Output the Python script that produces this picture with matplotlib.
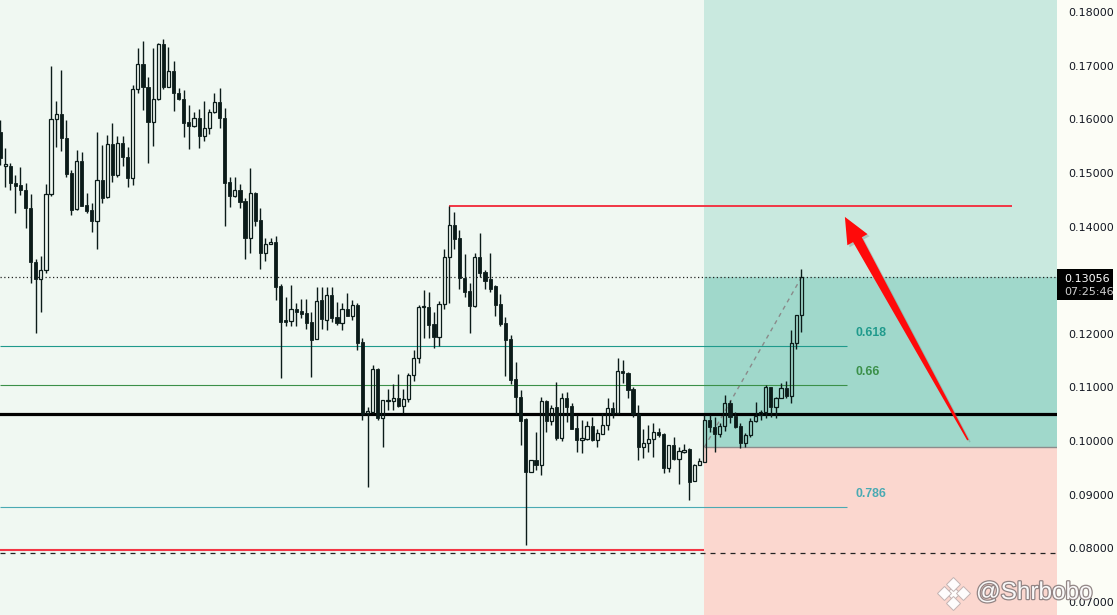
import matplotlib
matplotlib.use("Agg")
import matplotlib.pyplot as plt
import matplotlib.patheffects as pe
import matplotlib.transforms as mtransforms
import numpy as np
from matplotlib.patches import Polygon, Rectangle
from matplotlib.ticker import FormatStrFormatter

# ---- candles
opens = [
    0.1576, 0.1513, 0.1513, 0.1481, 0.1478, 0.1468, 0.1435, 0.1334, 0.1302, 0.1319,
    0.1461, 0.1601, 0.1610, 0.1565, 0.1500, 0.1433, 0.1522, 0.1440, 0.1431, 0.1410,
    0.1487, 0.1455, 0.1554, 0.1496, 0.1556, 0.1530, 0.1491, 0.1657, 0.1703, 0.1660,
    0.1595, 0.1638, 0.1740, 0.1660, 0.1690, 0.1649, 0.1638, 0.1595, 0.1587, 0.1602,
    0.1569, 0.1584, 0.1614, 0.1632, 0.1602, 0.1483, 0.1457, 0.1468, 0.1448, 0.1379,
    0.1463, 0.1412, 0.1351, 0.1368, 0.1371, 0.1289, 0.1226, 0.1224, 0.1246, 0.1243,
    0.1239, 0.1222, 0.1190, 0.1263, 0.1226, 0.1272, 0.1231, 0.1220, 0.1246, 0.1233,
    0.1254, 0.1185, 0.1052, 0.1054, 0.1134, 0.1043, 0.1075, 0.1075, 0.1080, 0.1066,
    0.1079, 0.1123, 0.1155, 0.1250, 0.1250, 0.1218, 0.1194, 0.1256, 0.1343, 0.1403,
    0.1379, 0.1304, 0.1280, 0.1252, 0.1343, 0.1315, 0.1302, 0.1289, 0.1256, 0.1220,
    0.1190, 0.1116, 0.1082, 0.1041, 0.0943, 0.0965, 0.0956, 0.1075, 0.1038, 0.1064,
    0.1006, 0.1080, 0.1066, 0.1025, 0.1002, 0.1004, 0.1028, 0.1002, 0.1013, 0.1030,
    0.1062, 0.1052, 0.1131, 0.1127, 0.1097, 0.1051, 0.0989, 0.0997, 0.1004, 0.1017,
    0.1013, 0.0950, 0.0993, 0.0967, 0.0980, 0.0985, 0.0926, 0.0956, 0.0961, 0.1039,
    0.1026, 0.1013, 0.1028, 0.1071, 0.1047, 0.1028, 0.0997, 0.1011, 0.1038, 0.1049,
    0.1054, 0.1101, 0.1064, 0.1080, 0.1099, 0.1084, 0.1183, 0.1235,
]
highs = [
    0.1599, 0.1547, 0.1519, 0.1496, 0.1511, 0.1481, 0.1461, 0.1340, 0.1345, 0.1479,
    0.1699, 0.1634, 0.1692, 0.1599, 0.1505, 0.1543, 0.1539, 0.1463, 0.1444, 0.1576,
    0.1552, 0.1571, 0.1593, 0.1569, 0.1569, 0.1548, 0.1664, 0.1733, 0.1746, 0.1679,
    0.1733, 0.1742, 0.1750, 0.1735, 0.1709, 0.1658, 0.1655, 0.1627, 0.1614, 0.1619,
    0.1634, 0.1619, 0.1649, 0.1658, 0.1621, 0.1492, 0.1492, 0.1479, 0.1453, 0.1509,
    0.1465, 0.1435, 0.1379, 0.1379, 0.1382, 0.1293, 0.1269, 0.1291, 0.1258, 0.1265,
    0.1265, 0.1241, 0.1287, 0.1287, 0.1287, 0.1287, 0.1259, 0.1258, 0.1276, 0.1263,
    0.1258, 0.1192, 0.1064, 0.1142, 0.1136, 0.1077, 0.1097, 0.1107, 0.1125, 0.1097,
    0.1127, 0.1170, 0.1254, 0.1282, 0.1278, 0.1241, 0.1261, 0.1358, 0.1438, 0.1427,
    0.1394, 0.1349, 0.1295, 0.1351, 0.1388, 0.1319, 0.1351, 0.1291, 0.1274, 0.1231,
    0.1198, 0.1148, 0.1095, 0.1043, 0.0965, 0.1017, 0.1082, 0.1077, 0.1067, 0.1110,
    0.1090, 0.1092, 0.1071, 0.1049, 0.1039, 0.1038, 0.1045, 0.1023, 0.1052, 0.1080,
    0.1073, 0.1155, 0.1151, 0.1129, 0.1101, 0.1067, 0.1023, 0.1030, 0.1034, 0.1025,
    0.1015, 0.0993, 0.1008, 0.0989, 0.0995, 0.0987, 0.0957, 0.0969, 0.1049, 0.1049,
    0.1045, 0.1034, 0.1086, 0.1077, 0.1054, 0.1034, 0.1015, 0.1043, 0.1073, 0.1058,
    0.1105, 0.1101, 0.1082, 0.1108, 0.1112, 0.1207, 0.1235, 0.1321,
]
lows = [
    0.1515, 0.1474, 0.1468, 0.1425, 0.1459, 0.1397, 0.1295, 0.1202, 0.1241, 0.1313,
    0.1457, 0.1548, 0.1541, 0.1492, 0.1422, 0.1431, 0.1438, 0.1425, 0.1390, 0.1358,
    0.1444, 0.1453, 0.1483, 0.1492, 0.1513, 0.1474, 0.1478, 0.1649, 0.1617, 0.1519,
    0.1550, 0.1636, 0.1657, 0.1660, 0.1615, 0.1636, 0.1567, 0.1545, 0.1586, 0.1547,
    0.1560, 0.1573, 0.1612, 0.1584, 0.1401, 0.1437, 0.1455, 0.1435, 0.1340, 0.1351,
    0.1401, 0.1321, 0.1336, 0.1368, 0.1263, 0.1118, 0.1215, 0.1215, 0.1215, 0.1230,
    0.1209, 0.1120, 0.1190, 0.1209, 0.1207, 0.1222, 0.1217, 0.1207, 0.1233, 0.1226,
    0.1170, 0.1039, 0.0915, 0.1052, 0.1039, 0.0989, 0.1058, 0.1058, 0.1064, 0.1052,
    0.1073, 0.1112, 0.1146, 0.1192, 0.1192, 0.1174, 0.1177, 0.1246, 0.1258, 0.1358,
    0.1284, 0.1269, 0.1202, 0.1250, 0.1306, 0.1284, 0.1278, 0.1233, 0.1215, 0.1121,
    0.1107, 0.1051, 0.0993, 0.0806, 0.0943, 0.0946, 0.0937, 0.1017, 0.1030, 0.1002,
    0.1000, 0.1036, 0.1023, 0.0980, 0.0978, 0.1002, 0.1000, 0.0989, 0.1013, 0.1021,
    0.1043, 0.1051, 0.1108, 0.1080, 0.1045, 0.0965, 0.0969, 0.0980, 0.0971, 0.1008,
    0.0941, 0.0943, 0.0965, 0.0920, 0.0978, 0.0890, 0.0926, 0.0956, 0.0961, 0.1017,
    0.0980, 0.1008, 0.1019, 0.1034, 0.1025, 0.0987, 0.0989, 0.1008, 0.1036, 0.1039,
    0.1043, 0.1045, 0.1043, 0.1080, 0.1080, 0.1071, 0.1172, 0.1204,
]
closes = [
    0.1528, 0.1517, 0.1481, 0.1476, 0.1468, 0.1435, 0.1334, 0.1302, 0.1319, 0.1461,
    0.1601, 0.1610, 0.1565, 0.1498, 0.1431, 0.1522, 0.1438, 0.1429, 0.1410, 0.1487,
    0.1453, 0.1554, 0.1496, 0.1556, 0.1530, 0.1491, 0.1657, 0.1703, 0.1660, 0.1595,
    0.1638, 0.1740, 0.1660, 0.1690, 0.1649, 0.1638, 0.1593, 0.1587, 0.1602, 0.1569,
    0.1584, 0.1614, 0.1632, 0.1602, 0.1481, 0.1457, 0.1468, 0.1446, 0.1379, 0.1463,
    0.1410, 0.1351, 0.1368, 0.1371, 0.1287, 0.1222, 0.1222, 0.1246, 0.1241, 0.1237,
    0.1220, 0.1189, 0.1261, 0.1228, 0.1272, 0.1230, 0.1220, 0.1246, 0.1233, 0.1254,
    0.1183, 0.1051, 0.1056, 0.1134, 0.1043, 0.1077, 0.1077, 0.1080, 0.1066, 0.1079,
    0.1123, 0.1155, 0.1250, 0.1252, 0.1217, 0.1194, 0.1256, 0.1343, 0.1403, 0.1377,
    0.1304, 0.1278, 0.1252, 0.1343, 0.1313, 0.1299, 0.1284, 0.1254, 0.1218, 0.1189,
    0.1114, 0.1082, 0.1038, 0.0943, 0.0965, 0.0956, 0.1075, 0.1038, 0.1062, 0.1006,
    0.1080, 0.1064, 0.1023, 0.1002, 0.1006, 0.1028, 0.1002, 0.1015, 0.1030, 0.1062,
    0.1052, 0.1131, 0.1127, 0.1095, 0.1051, 0.0989, 0.0997, 0.1004, 0.1017, 0.1011,
    0.0950, 0.0993, 0.0967, 0.0982, 0.0984, 0.0924, 0.0956, 0.0963, 0.1039, 0.1026,
    0.1013, 0.1028, 0.1071, 0.1045, 0.1026, 0.0997, 0.1011, 0.1038, 0.1047, 0.1054,
    0.1101, 0.1064, 0.1080, 0.1099, 0.1084, 0.1183, 0.1235, 0.13056,
]

# ---- drawing levels
fib_levels = [0.1177, 0.1105, 0.0877]
fib_labels = ["0.618", "0.66", "0.786"]
support = 0.10506
resistance_bar = 88            # swing high the red line starts from
low_line = 0.0797
stop_line = 0.0791
entry_bar = 138
entry_price = 0.0989
arrow_tail = (189.6, 0.1002)
arrow_tip = (165.5, 0.1418)
price_ticks = [0.07, 0.08, 0.09, 0.10, 0.11, 0.12, 0.14, 0.15, 0.16, 0.17, 0.18]
countdown = "07:25:46"
watermark = "@Shrbobo"

INK = "#0b1b19"
BG = "#f0f8f2"
X_RIGHT = 207.05
Y_LO, Y_HI = 0.06758, 0.18224

fig = plt.figure(figsize=(11.17, 6.15), dpi=100, facecolor="#fcfdf6")
ax = fig.add_axes([0, 0, 1057 / 1117, 1])
ax.set_facecolor(BG)
ax.set_xlim(0, X_RIGHT)
ax.set_ylim(Y_LO, Y_HI)
for s in ax.spines.values():
    s.set_visible(False)

last = closes[-1]

# ---- long position box
w = X_RIGHT - entry_bar
ax.add_patch(Rectangle((entry_bar, last), w, Y_HI - last, facecolor="#c9e9df", edgecolor="none", zorder=1))
ax.add_patch(Rectangle((entry_bar, entry_price), w, last - entry_price, facecolor="#a0d8cb", edgecolor="none", zorder=1))
ax.add_patch(Rectangle((entry_bar, Y_LO), w, entry_price - Y_LO, facecolor="#fbd7cf", edgecolor="none", zorder=1))
ax.hlines(entry_price, entry_bar, X_RIGHT, colors="#8c8c8c", lw=1.0, zorder=2)
ax.plot([entry_bar, len(closes) - 1], [entry_price, last], color="#8a8a8a", lw=1.0,
        ls=(0, (3, 3)), zorder=3)

# ---- horizontal levels
fib_colors = ["#1f9a8c", "#3b9049", "#4aaab3"]
fib_end = 165.9
for lvl, lab, col in zip(fib_levels, fib_labels, fib_colors):
    ax.hlines(lvl, 0, fib_end, colors=col, lw=0.8, zorder=3)
    ax.annotate(lab, xy=(fib_end + 1.6, lvl), xytext=(0, 9.4), textcoords="offset points",
                color=col, fontsize=8.8, fontweight="bold", va="center", ha="left",
                family="Liberation Sans", zorder=3)

ax.axhline(support, color="black", lw=2.3, zorder=3)
ax.hlines(highs[resistance_bar], resistance_bar, 198.2, colors="#f23645", lw=1.4, zorder=3)
ax.hlines(low_line, 0, entry_bar, colors="#f23645", lw=1.5, zorder=3)
ax.axhline(stop_line, color="#222222", lw=0.9, ls=(0, (4, 4)), zorder=3)
ax.axhline(last, color="#222222", lw=0.9, ls=(0, (1, 2)), zorder=3)

# ---- candles
o, h, l, c = (np.array(v) for v in (opens, highs, lows, closes))
x = np.arange(len(o))
up = c >= o
lo_b = np.minimum(o, c)
hi_b = np.maximum(o, c)
ax.vlines(x, hi_b, h, color=INK, lw=1.0, zorder=4)
ax.vlines(x, l, lo_b, color=INK, lw=1.0, zorder=4)
height = np.maximum(hi_b - lo_b, 0.00008)
ax.bar(x[up], height[up], bottom=lo_b[up], width=0.62, facecolor="none", edgecolor=INK,
       lw=0.9, zorder=4)
ax.bar(x[~up], height[~up], bottom=lo_b[~up], width=0.62, facecolor=INK, edgecolor=INK,
       lw=0.6, zorder=4)

# ---- red arrow (built in pixels so it tapers like the drawing tool)
td = ax.transData
t = td.transform(arrow_tail)
hp = td.transform(arrow_tip)
d = hp - t
u = d / np.hypot(*d)
n = np.array([-u[1], u[0]])
base = hp - u * 26
pts = [t + n * 0.8, base + n * 5, base + n * 11.5, hp, base - n * 11.5, base - n * 5, t - n * 0.8]
arrow = Polygon(td.inverted().transform(pts), closed=True, facecolor="#ff0a0a", edgecolor="none",
                zorder=6, path_effects=[pe.SimplePatchShadow(offset=(1.5, -1.5), shadow_rgbFace="#6f8a84",
                                                             alpha=0.35), pe.Normal()])
ax.add_patch(arrow)

# ---- price scale
ax.set_xticks([])
ax.yaxis.tick_right()
ax.set_yticks(price_ticks)
ax.yaxis.set_major_formatter(FormatStrFormatter("%.5f"))
ax.tick_params(axis="y", length=0, pad=8, labelsize=8, labelcolor="#131722")

blend = mtransforms.blended_transform_factory(ax.transAxes, ax.transData)
ax.add_patch(Rectangle((1.0, last - 0.00426), 0.053, 0.0058, transform=blend, facecolor="black",
                       edgecolor="none", clip_on=False, zorder=10))
ax.text(1.0066, last - 0.00036, f"{last:.5f}", transform=blend, color="white", fontsize=8,
        va="center", ha="left", zorder=11, clip_on=False)
ax.text(1.0066, last - 0.00276, countdown, transform=blend, color="#cfcfcf", fontsize=8,
        va="center", ha="left", zorder=11, clip_on=False)

# ---- watermark
shadow = [pe.withStroke(linewidth=1.8, foreground=(0.55, 0.5, 0.5, 0.45))]
fig.text(976 / 1117, 1 - 593 / 615, watermark, color="white", fontsize=17.5, family="Liberation Sans",
         va="center", ha="left", alpha=0.95, path_effects=shadow, zorder=20)
cx, cy = 953 / 1117, 1 - 593 / 615
dx, dy = 9.5 / 1117, 9.5 / 615
fig.lines.append(plt.Line2D([cx, cx - dx, cx + dx, cx, cx], [cy, cy, cy, cy + dy, cy - dy],
                            transform=fig.transFigure, ls="none", marker="D", markersize=7,
                            markerfacecolor="white", markeredgecolor="#c0b0b0", markeredgewidth=0.7,
                            alpha=0.95, zorder=20))

fig.savefig("out.png", dpi=100, facecolor=fig.get_facecolor())
